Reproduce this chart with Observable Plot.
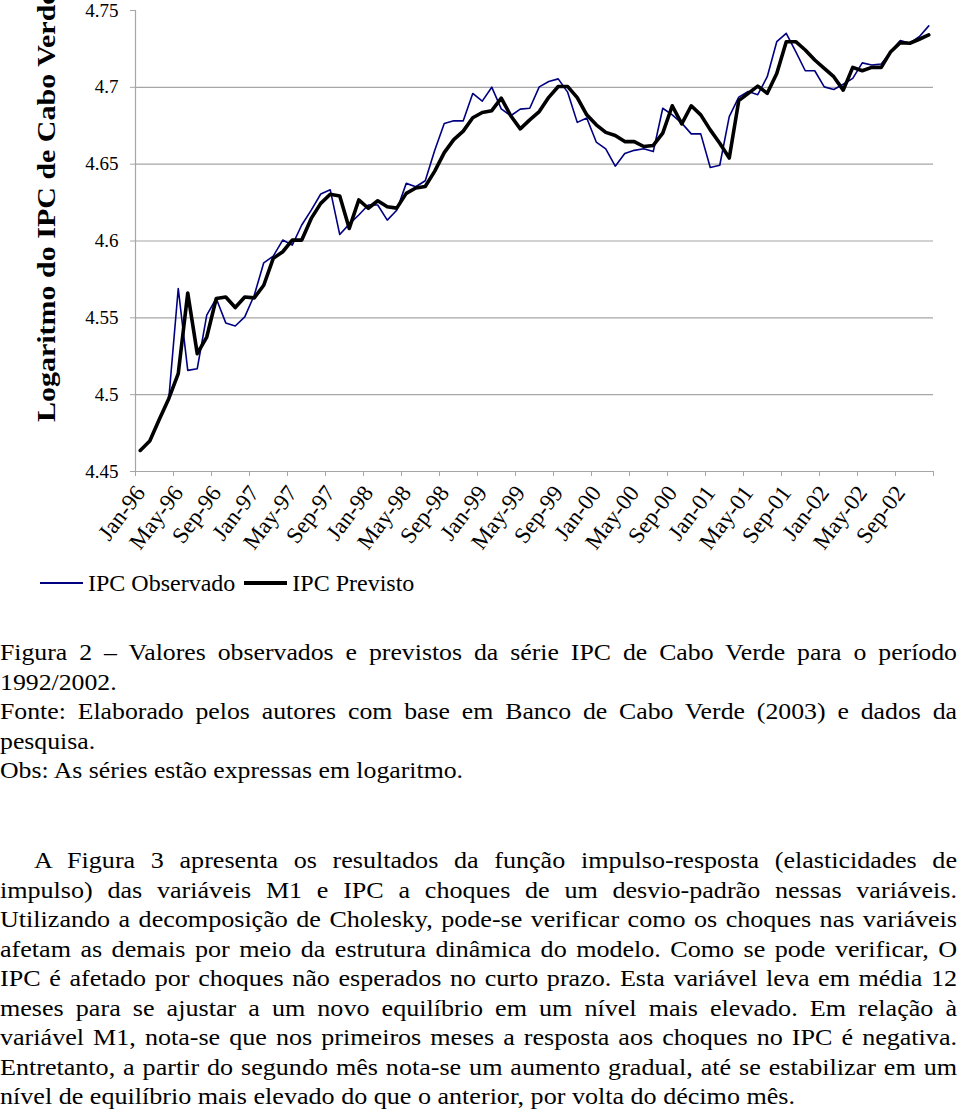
<!DOCTYPE html>
<html><head><meta charset="utf-8">
<script src="https://cdn.jsdelivr.net/npm/d3@7"></script>
<script src="https://cdn.jsdelivr.net/npm/@observablehq/plot@0.6"></script>
<style>
html,body{margin:0;padding:0;background:#fff;}
body{width:960px;height:1114px;overflow:hidden;position:relative;font-family:"Liberation Serif","Times New Roman",serif;color:#000;}
#chart{position:absolute;left:0;top:0;}
#chart svg{display:block;overflow:visible;}
#legend{position:absolute;left:40px;top:566px;height:34px;display:flex;align-items:center;font-size:24px;white-space:nowrap;}
#legend .sw{display:inline-block;width:43px;margin-right:5px;}
#legend .item{display:flex;align-items:center;margin-right:9px;}
.block{position:absolute;left:0;transform-origin:0 0;font-size:24px;}
.block div{height:29.5px;line-height:29.5px;white-space:nowrap;}
.block div.j{text-align:justify;text-align-last:justify;white-space:normal;overflow:hidden;}
</style></head><body>
<div id="chart"></div>
<div id="legend"></div>
<div id="caption" class="block"></div>
<div id="body" class="block"></div>
<script>
// ---- data ----
const tickLabels = ["Jan-96","May-96","Sep-96","Jan-97","May-97","Sep-97","Jan-98","May-98","Sep-98","Jan-99","May-99","Sep-99","Jan-00","May-00","Sep-00","Jan-01","May-01","Sep-01","Jan-02","May-02","Sep-02"];
const yTicks = [4.45, 4.5, 4.55, 4.6, 4.65, 4.7, 4.75];
const gridValues = [4.5, 4.55, 4.6, 4.65, 4.7];
const seriesNames = ["IPC Observado", "IPC Previsto"];
const observado = [
 4.4637,4.4698,4.4840,4.4970,4.5691,4.5158,4.5169,4.5517,4.5626,4.5467,4.5447,4.5506,
 4.5647,4.5858,4.5902,4.6006,4.5973,4.6104,4.6201,4.6306,4.6333,4.6042,4.6110,4.6169,
 4.6234,4.6234,4.6136,4.6200,4.6375,4.6353,4.6392,4.6590,4.6765,4.6782,4.6782,4.6960,
 4.6910,4.7001,4.6860,4.6815,4.6858,4.6864,4.7003,4.7038,4.7055,4.6967,4.6772,4.6800,
 4.6644,4.6600,4.6487,4.6569,4.6590,4.6600,4.6582,4.6864,4.6821,4.6767,4.6697,4.6697,
 4.6478,4.6493,4.6810,4.6936,4.6973,4.6952,4.7069,4.7297,4.7351,4.7232,4.7108,4.7108,
 4.7003,4.6986,4.7020,4.7058,4.7159,4.7145,4.7152,4.7232,4.7305,4.7287,4.7329,4.7400
];
const previsto = [
 4.4637,4.4698,4.4838,4.4974,4.5137,4.5662,4.5267,4.5375,4.5626,4.5636,4.5567,4.5636,
 4.5630,4.5712,4.5887,4.5930,4.6006,4.6006,4.6147,4.6245,4.6304,4.6293,4.6082,4.6267,
 4.6213,4.6262,4.6223,4.6214,4.6310,4.6345,4.6355,4.6455,4.6575,4.6660,4.6715,4.6802,
 4.6836,4.6848,4.6930,4.6815,4.6730,4.6788,4.6842,4.6935,4.7005,4.7005,4.6933,4.6821,
 4.6756,4.6707,4.6687,4.6647,4.6647,4.6615,4.6622,4.6702,4.6880,4.6762,4.6880,4.6821,
 4.6723,4.6636,4.6540,4.6913,4.6961,4.7008,4.6961,4.7090,4.7297,4.7297,4.7243,4.7178,
 4.7123,4.7069,4.6982,4.7130,4.7108,4.7130,4.7130,4.7232,4.7291,4.7287,4.7313,4.7341
];
const yTitle = "Logaritmo do IPC de Cabo Verde";
const captionLines = [
 ["Figura 2 – Valores observados e previstos da série IPC de Cabo Verde para o período", true],
 ["1992/2002.", false],
 ["Fonte: Elaborado pelos autores com base em Banco de Cabo Verde (2003) e dados da", true],
 ["pesquisa.", false],
 ["Obs: As séries estão expressas em logaritmo.", false]
];
const bodyLines = [
 ["A Figura 3 apresenta os resultados da função impulso-resposta (elasticidades de", true],
 ["impulso) das variáveis M1 e IPC a choques de um desvio-padrão nessas variáveis.", true],
 ["Utilizando a decomposição de Cholesky, pode-se verificar como os choques nas variáveis", true],
 ["afetam as demais por meio da estrutura dinâmica do modelo. Como se pode verificar, O", true],
 ["IPC é afetado por choques não esperados no curto prazo. Esta variável leva em média 12", true],
 ["meses para se ajustar a um novo equilíbrio em um nível mais elevado. Em relação à", true],
 ["variável M1, nota-se que nos primeiros meses a resposta aos choques no IPC é negativa.", true],
 ["Entretanto, a partir do segundo mês nota-se um aumento gradual, até se estabilizar em um", true],
 ["nível de equilíbrio mais elevado do que o anterior, por volta do décimo mês.", false]
];

// ---- chart ----
const serif = "'Liberation Serif','Times New Roman',serif";
const n = observado.length;
const data = observado.map((v, i) => ({t: i + 0.5, obs: v, prev: previsto[i]}));
const labelPos = tickLabels.map((_, k) => k * 4 + 0.5);
const labelMap = new Map(labelPos.map((p, k) => [p, tickLabels[k]]));
const tickPos = d3.range(0, n + 1, 4);
const axisGray = "#a6a6a6";

const chart = Plot.plot({
  width: 960, height: 566,
  marginLeft: 135, marginRight: 27, marginTop: 10, marginBottom: 95,
  x: {domain: [0, n], axis: null, label: null},
  y: {domain: [4.45, 4.75], axis: null, label: null},
  style: {fontFamily: serif, background: "#fff", color: "#000"},
  marks: [
    Plot.gridY(gridValues, {stroke: axisGray, strokeOpacity: 1, strokeWidth: 1.2}),
    Plot.ruleX([0], {stroke: axisGray, strokeWidth: 1.2}),
    Plot.ruleY([4.45], {stroke: axisGray, strokeWidth: 1.2}),
    Plot.axisY(yTicks, {tickSize: 5, tickPadding: 12, stroke: axisGray, fontSize: 19, fill: "#000",
      fontFamily: serif, label: null, tickFormat: d => String(+d.toFixed(2))}),
    Plot.axisX(tickPos, {tickSize: 5, stroke: axisGray, label: null, tickFormat: () => ""}),
    Plot.axisX(labelPos, {tickSize: 0, tickPadding: 17, tickRotate: -53, fontSize: 23, fill: "#000",
      fontFamily: serif, label: null, tickFormat: d => labelMap.get(d)}),
    Plot.line(data, {x: "t", y: "obs", stroke: "#000080", strokeWidth: 1.6}),
    Plot.line(data, {x: "t", y: "prev", stroke: "#000", strokeWidth: 3.6})
  ]
});
document.getElementById("chart").appendChild(chart);
d3.select(chart).append("text")
  .attr("transform", "translate(55,422) rotate(-90) scale(1,0.85)")
  .attr("font-family", serif).attr("text-anchor", "start")
  .attr("font-weight", "bold").attr("font-size", 30).attr("fill", "#000")
  .text(yTitle);

// ---- legend ----
const leg = d3.select("#legend");
const swatches = [{c: "#000080", w: 1.6}, {c: "#000", w: 3.6}];
seriesNames.forEach((name, k) => {
  const it = leg.append("span").attr("class", "item");
  it.append("span").attr("class", "sw").style("height", swatches[k].w + "px").style("background", swatches[k].c);
  it.append("span").text(name);
});

// ---- text blocks ----
const targetW = 957;
const meas = document.createElement("span");
meas.style.cssText = "position:absolute;visibility:hidden;white-space:nowrap;font-size:24px;font-family:'Liberation Serif','Times New Roman',serif;";
document.body.appendChild(meas);
function natural(t) { meas.textContent = t; return meas.getBoundingClientRect().width; }
function build(id, lines, top, indent, refLine, refWidth) {
  const s = refWidth / natural(refLine);
  const el = document.getElementById(id);
  el.style.top = top + "px";
  el.style.width = (targetW / s) + "px";
  el.style.transform = `scaleX(${s})`;
  lines.forEach(([t, j], i) => {
    const d = document.createElement("div");
    if (j) d.className = "j";
    d.textContent = t;
    const ind = (indent && i === 0) ? indent / s : 0;
    if (ind) d.style.textIndent = ind + "px";
    if (j) {
      const avail = (targetW - 4) / s - ind;
      const w = natural(t);
      if (w > avail) d.style.letterSpacing = ((avail - w) / t.length) + "px";
    }
    el.appendChild(d);
  });
}
build("caption", captionLines, 638, 0, captionLines[4][0], 463);
build("body", bodyLines, 846, 34, bodyLines[8][0], 795);
</script>
</body></html>
